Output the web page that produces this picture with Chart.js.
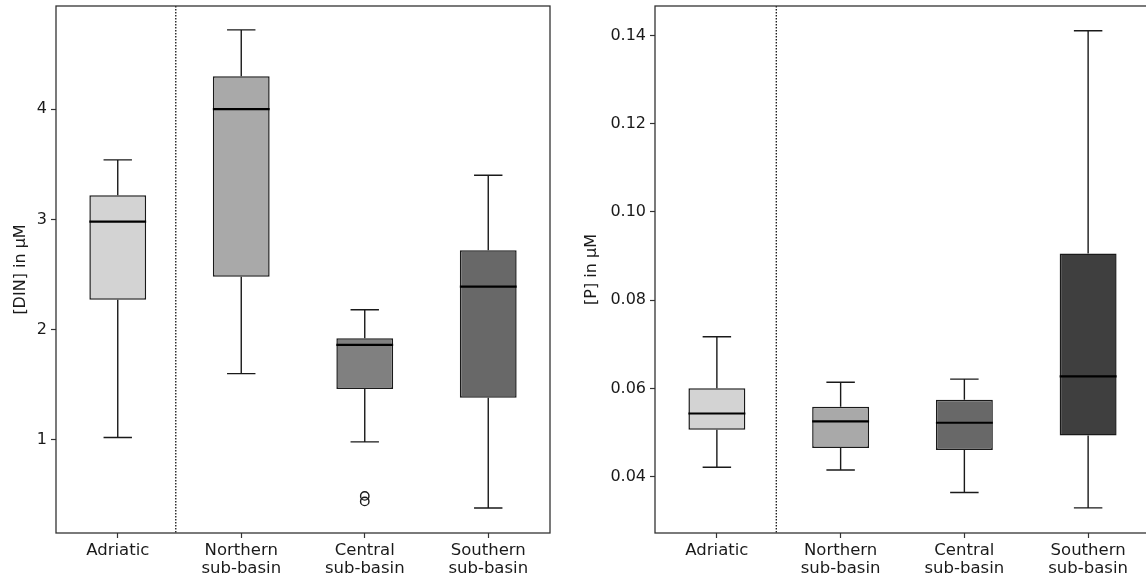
<!DOCTYPE html>
<html>
<head>
<meta charset="utf-8">
<script src="https://cdn.jsdelivr.net/npm/chart.js@4.4.0/dist/chart.umd.min.js"></script>
<style>
  html, body { margin: 0; padding: 0; background: #fff; overflow: hidden; }
  #dinBox { position: absolute; left: 0; top: 0; width: 552px; height: 586px; }
  #pBox { position: absolute; left: 570px; top: 0; width: 582px; height: 586px; }
</style>
</head>
<body>
<div id="dinBox"><canvas id="dinChart"></canvas></div>
<div id="pBox"><canvas id="pChart"></canvas></div>
<script>
// ==========================================
// Data
// ==========================================

const CATEGORIES = ['Adriatic', ['Northern', 'sub-basin'], ['Central', 'sub-basin'], ['Southern', 'sub-basin']];

// [DIN] in µM
const DIN_LOW = [1.02, 1.60, 0.98, 0.38];
const DIN_Q1 = [2.27, 2.48, 1.46, 1.38];
const DIN_MEDIAN = [2.98, 4.00, 1.86, 2.39];
const DIN_Q3 = [3.22, 4.30, 1.92, 2.72];
const DIN_HIGH = [3.54, 4.72, 2.18, 3.40];
const DIN_OUTLIERS = [[], [], [0.49, 0.44], []];
const DIN_TICKS = [1, 2, 3, 4];
const DIN_COLORS = ['#d3d3d3', '#a9a9a9', '#808080', '#686868'];

// [P] in µM
const P_LOW = [0.0421, 0.0415, 0.0364, 0.0329];
const P_Q1 = [0.0506, 0.0465, 0.0460, 0.0493];
const P_MEDIAN = [0.0543, 0.0525, 0.0522, 0.0627];
const P_Q3 = [0.0600, 0.0558, 0.0574, 0.0906];
const P_HIGH = [0.0717, 0.0614, 0.0621, 0.1411];
const P_OUTLIERS = [[], [], [], []];
const P_TICKS = [0.04, 0.06, 0.08, 0.10, 0.12, 0.14];
const P_COLORS = ['#d3d3d3', '#a9a9a9', '#686868', '#3f3f3f'];

const BOX_WIDTH = 0.46;
const INK = '#1a1a1a';

Chart.defaults.font.family = "'DejaVu Sans', sans-serif";
Chart.defaults.color = INK;

// ==========================================
// Whiskers, medians, outliers, separator, frame
// ==========================================

function boxExtras(p) {
  return {
    id: 'boxExtras',
    afterDatasetsDraw(chart) {
      const { ctx, chartArea: a, scales: { x, y } } = chart;
      const step = x.getPixelForValue(1) - x.getPixelForValue(0);
      const halfBox = step * BOX_WIDTH / 2;
      const halfCap = halfBox / 2;
      ctx.save();

      // whiskers + caps
      ctx.strokeStyle = INK;
      ctx.lineWidth = 1.4;
      p.low.forEach((lo, i) => {
        const cx = x.getPixelForValue(i);
        ctx.beginPath();
        ctx.moveTo(cx, y.getPixelForValue(p.q1[i]));
        ctx.lineTo(cx, y.getPixelForValue(lo));
        ctx.moveTo(cx, y.getPixelForValue(p.q3[i]));
        ctx.lineTo(cx, y.getPixelForValue(p.high[i]));
        ctx.moveTo(cx - halfCap, y.getPixelForValue(lo));
        ctx.lineTo(cx + halfCap, y.getPixelForValue(lo));
        ctx.moveTo(cx - halfCap, y.getPixelForValue(p.high[i]));
        ctx.lineTo(cx + halfCap, y.getPixelForValue(p.high[i]));
        ctx.stroke();
      });

      // medians
      ctx.strokeStyle = '#000';
      ctx.lineWidth = 2.2;
      p.median.forEach((m, i) => {
        const cx = x.getPixelForValue(i);
        const py = y.getPixelForValue(m);
        ctx.beginPath();
        ctx.moveTo(cx - halfBox, py);
        ctx.lineTo(cx + halfBox, py);
        ctx.stroke();
      });

      // outliers
      ctx.strokeStyle = INK;
      ctx.lineWidth = 1.4;
      p.outliers.forEach((list, i) => {
        const cx = x.getPixelForValue(i);
        list.forEach(v => {
          ctx.beginPath();
          ctx.arc(cx, y.getPixelForValue(v), 4.2, 0, Math.PI * 2);
          ctx.stroke();
        });
      });

      // dotted separator between Adriatic and the sub-basins
      const sx = x.getPixelForValue(p.split);
      ctx.strokeStyle = '#000';
      ctx.lineWidth = 1.2;
      ctx.setLineDash([1.5, 1.5]);
      ctx.beginPath();
      ctx.moveTo(sx, a.top);
      ctx.lineTo(sx, a.bottom);
      ctx.stroke();
      ctx.setLineDash([]);

      // axes frame
      ctx.strokeStyle = '#333';
      ctx.lineWidth = 1.3;
      ctx.strokeRect(a.left, a.top, a.right - a.left, a.bottom - a.top);
      ctx.restore();
    }
  };
}

// ==========================================
// Panel builder
// ==========================================

function makePanel(canvasId, p) {
  return new Chart(document.getElementById(canvasId), {
    type: 'bar',
    data: {
      labels: CATEGORIES,
      datasets: [{
        data: p.q1.map((v, i) => [v, p.q3[i]]),
        backgroundColor: p.colors,
        borderColor: INK,
        borderWidth: 1.5,
        borderSkipped: false,
        barPercentage: BOX_WIDTH,
        categoryPercentage: 1
      }]
    },
    options: {
      responsive: true,
      maintainAspectRatio: false,
      animation: false,
      layout: { padding: { left: 0, right: 2, top: 6, bottom: 0 } },
      plugins: { legend: { display: false }, tooltip: { enabled: false } },
      scales: {
        x: {
          offset: true,
          grid: { offset: false, drawOnChartArea: false, drawTicks: true, tickLength: 5, tickColor: '#333', tickWidth: 1.2 },
          border: { display: false },
          ticks: { font: { size: 16.5, lineHeight: 1.12 }, color: INK, padding: 3, maxRotation: 0, autoSkip: false },
          afterFit: s => { s.height = 53; s.paddingLeft = 0; s.paddingRight = 0; }
        },
        y: {
          min: p.min,
          max: p.max,
          grid: { drawOnChartArea: false, drawTicks: true, tickLength: 5, tickColor: '#333', tickWidth: 1.2 },
          border: { display: false },
          afterBuildTicks: s => { s.ticks = p.ticks.map(v => ({ value: v })); },
          ticks: { font: { size: 16 }, color: INK, padding: 4, callback: p.fmt },
          title: { display: true, text: p.title, font: { size: 16 }, color: INK, padding: { top: p.titlePad, bottom: 0 } },
          afterFit: s => { s.width = p.axisWidth; s.paddingTop = 0; s.paddingBottom = 0; }
        }
      }
    },
    plugins: [boxExtras(p)]
  });
}

makePanel('dinChart', {
  low: DIN_LOW, q1: DIN_Q1, median: DIN_MEDIAN, q3: DIN_Q3, high: DIN_HIGH,
  outliers: DIN_OUTLIERS, colors: DIN_COLORS, ticks: DIN_TICKS,
  min: 0.153, max: 4.937, split: 0.47,
  title: '[DIN] in µM', titlePad: 11, axisWidth: 56,
  fmt: v => String(v)
});

makePanel('pChart', {
  low: P_LOW, q1: P_Q1, median: P_MEDIAN, q3: P_Q3, high: P_HIGH,
  outliers: P_OUTLIERS, colors: P_COLORS, ticks: P_TICKS,
  min: 0.0272, max: 0.1467, split: 0.48,
  title: '[P] in µM', titlePad: 12, axisWidth: 85,
  fmt: v => v.toFixed(2)
});
</script>
</body>
</html>
